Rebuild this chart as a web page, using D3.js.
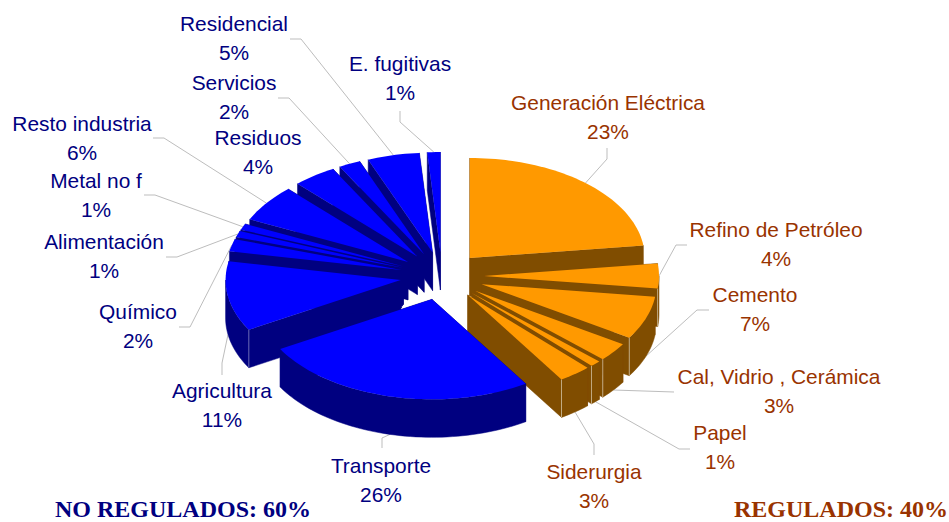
<!DOCTYPE html>
<html>
<head>
<meta charset="utf-8">
<script src="https://cdn.jsdelivr.net/npm/d3@7"></script>
<style>
html, body { margin: 0; padding: 0; background: #fff; }
svg { display: block; }
text { font-family: "Liberation Sans", Arial, sans-serif; font-size: 20.9px; }
.total { font-family: "Liberation Serif", "Times New Roman", serif; font-weight: bold; font-size: 24px; }
</style>
</head>
<body>
<div class="svg_container"></div>
<script>
// sectors, clockwise from 12 o'clock
var categories = ["Generación Eléctrica", "Refino de Petróleo", "Cemento", "Cal, Vidrio , Cerámica", "Papel", "Siderurgia",
    "Transporte", "Agricultura", "Químico", "Alimentación", "Metal no f", "Resto industria", "Residuos", "Servicios", "Residencial", "E. fugitivas"];
var shares = [23, 4, 7, 3, 1, 3, 25.7, 11.3, 2, 1, 1, 6, 4, 2, 4.8, 1.2];
var regulated = [true, true, true, true, true, true, false, false, false, false, false, false, false, false, false, false];
var totals = ["NO REGULADOS: 60%", "REGULADOS: 40%"];

const WIDTH = 949;
const HEIGHT = 522;
const CX = 442;
const CY = 276;
const RX = 175;
const RY = 100;
const DEPTH = 38;
const EXPLODE = 0.24;

const BLUE = {top: "#0000ff", side: "#000080", line: "#7f7fc0", text: "#000080"};
const ORANGE = {top: "#ff9900", side: "#804d00", line: "#d0c0a0", text: "#993300"};

// label centres (first line baseline) and leader elbows, same order as categories
var labelX = [608, 776, 755, 779, 720, 594, 381, 222, 138, 104, 96, 82, 258, 234, 234, 400];
var labelY = [110, 237, 302, 384, 440, 479, 473, 398, 319, 249, 188, 131, 145, 90, 31, 71];
var leaders = [
    [[607, 159], [607, 148]], [[676, 245], [687, 245]], [[697, 310], [709, 310]], [[674, 392], [674, 392]],
    [[679, 449], [690, 449]], [[594, 444], [594, 455]], [[382, 438], [382, 448]], [[222, 363], [222, 375]],
    [[190, 327], [179, 327]], [[177, 257], [166, 257]], [[155, 195], [144, 195]], [[164, 138], [153, 138]],
    null, [[289, 98], [278, 98]], [[301, 39], [290, 39]], [[400, 122], [400, 111]]
];

var x = d3.scaleLinear().domain([-1, 1]).range([CX - RX, CX + RX]);
var y = d3.scaleLinear().domain([-1, 1]).range([CY - RY, CY + RY]);

var pie = d3.pie().sort(null).value(function (d) { return d; });
var slices = pie(shares).map(function (d, i) {
    var mid = (d.startAngle + d.endAngle) / 2;
    return {
        index: i,
        a0: d.startAngle,
        a1: d.endAngle,
        mid: mid,
        ox: EXPLODE * Math.sin(mid),
        oy: -EXPLODE * Math.cos(mid),
        colors: regulated[i] ? ORANGE : BLUE
    };
});

// point on the rim (or the apex when r is 0) of a slice
var rim = function (s, angle, r, drop) {
    return [x(s.ox + r * Math.sin(angle)), y(s.oy - r * Math.cos(angle)) + (drop || 0)];
};

var arcAngles = function (a0, a1) {
    var n = Math.max(2, Math.ceil((a1 - a0) / 0.03));
    return d3.range(n + 1).map(function (k) { return a0 + (a1 - a0) * k / n; });
};

var line = d3.line();

var svg = d3.select(".svg_container").append("svg")
    .attr("width", WIDTH)
    .attr("height", HEIGHT);

// leader lines go under the pie
svg.append("g").selectAll("path")
    .data(slices.filter(function (s) { return leaders[s.index]; }))
    .enter().append("path")
    .attr("fill", "none")
    .attr("stroke", "#bdbdbd")
    .attr("stroke-width", 1)
    .attr("d", function (s) {
        var front = Math.cos(s.mid) < 0;
        var start = rim(s, s.mid, 1, front ? DEPTH : 0);
        return line([start].concat(leaders[s.index]));
    });

// back slices first
var order = slices.slice().sort(function (a, b) { return a.oy - b.oy; });
var groups = svg.append("g").selectAll("g")
    .data(order)
    .enter().append("g");

groups.each(function (s) {
    var g = d3.select(this);
    var side = s.colors.side;

    [s.a0, s.a1].forEach(function (a) {
        g.append("path")
            .attr("fill", side)
            .attr("stroke", side)
            .attr("stroke-width", 0.5)
            .attr("d", line([rim(s, a, 0), rim(s, a, 1), rim(s, a, 1, DEPTH), rim(s, a, 0, DEPTH)]) + "Z");
    });

    var w0 = Math.max(s.a0, Math.PI / 2);
    var w1 = Math.min(s.a1, Math.PI * 1.5);
    if (w1 > w0) {
        var upper = arcAngles(w0, w1).map(function (a) { return rim(s, a, 1); });
        var lower = arcAngles(w0, w1).reverse().map(function (a) { return rim(s, a, 1, DEPTH); });
        g.append("path")
            .attr("fill", side)
            .attr("stroke", side)
            .attr("stroke-width", 0.5)
            .attr("d", line(upper.concat(lower)) + "Z");
    }

    // pale corner where a radial wall meets the outer wall
    var corner = null;
    if (s.a1 > Math.PI / 2 && s.a1 < Math.PI) corner = s.a1;
    if (s.a0 > Math.PI && s.a0 < Math.PI * 1.5) corner = s.a0;
    if (corner !== null) {
        g.append("path")
            .attr("fill", "none")
            .attr("stroke", s.colors.line)
            .attr("stroke-width", 0.8)
            .attr("d", line([rim(s, corner, 1), rim(s, corner, 1, DEPTH)]));
    }

    var top = [rim(s, 0, 0)].concat(arcAngles(s.a0, s.a1).map(function (a) { return rim(s, a, 1); }));
    g.append("path")
        .attr("fill", s.colors.top)
        .attr("d", line(top) + "Z");
});

// two line labels: name and rounded share
var labels = svg.append("g").selectAll("text")
    .data(slices)
    .enter().append("text")
    .attr("text-anchor", "middle")
    .attr("fill", function (s) { return s.colors.text; })
    .attr("x", function (s) { return labelX[s.index]; })
    .attr("y", function (s) { return labelY[s.index]; });

labels.append("tspan")
    .text(function (s) { return categories[s.index]; });
labels.append("tspan")
    .attr("x", function (s) { return labelX[s.index]; })
    .attr("dy", 28.7)
    .text(function (s) { return Math.round(shares[s.index]) + "%"; });

svg.append("text").attr("class", "total")
    .attr("x", 55).attr("y", 516.7)
    .attr("fill", BLUE.text)
    .text(totals[0]);
svg.append("text").attr("class", "total")
    .attr("x", 948).attr("y", 516.7)
    .attr("text-anchor", "end")
    .attr("fill", ORANGE.text)
    .text(totals[1]);
</script>
</body>
</html>
